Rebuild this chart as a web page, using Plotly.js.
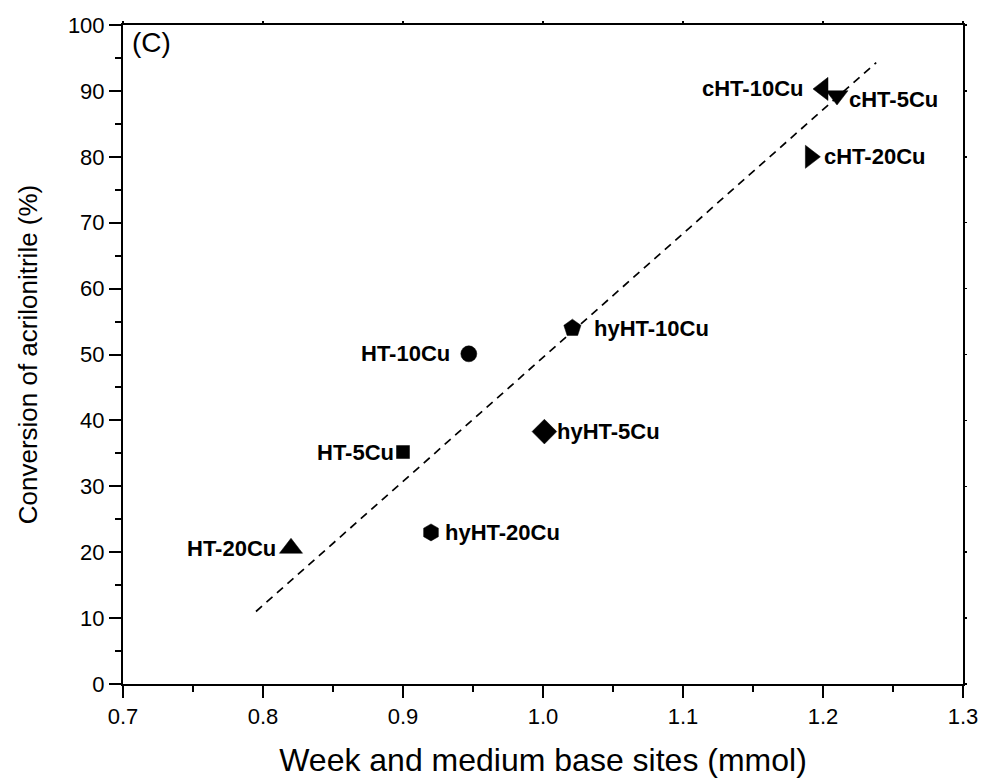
<!DOCTYPE html>
<html>
<head>
<meta charset="utf-8">
<script src="https://cdn.plot.ly/plotly-3.0.1.min.js"></script>
<style>html,body{margin:0;padding:0;background:#fff;}#chart{width:981px;height:781px;}</style>
</head>
<body>
<div id="chart"></div>
<script>
// Data
var sampleNames = ["HT-5Cu", "HT-10Cu", "HT-20Cu", "hyHT-5Cu", "hyHT-10Cu", "hyHT-20Cu", "cHT-5Cu", "cHT-10Cu", "cHT-20Cu"];
var baseSites   = [0.900, 0.947, 0.820, 1.001, 1.021, 0.920, 1.210, 1.200, 1.191];
var conversion  = [35.2, 50.1, 20.6, 38.3, 54.0, 23.0, 89.3, 90.3, 80.0];
var symbols     = ["square", "circle", "triangle-up", "diamond", "pentagon", "hexagon", "triangle-down", "triangle-left", "triangle-right"];
var labelSide   = ["left", "left", "left", "right", "right", "right", "right", "left", "right"];
var fitX = [0.795, 1.238];
var fitY = [11.0, 94.3];
var xTicks = [0.7, 0.8, 0.9, 1.0, 1.1, 1.2, 1.3];
var xTickText = ["0.7", "0.8", "0.9", "1.0", "1.1", "1.2", "1.3"];
var yTicks = [0, 10, 20, 30, 40, 50, 60, 70, 80, 90, 100];

var sizes = {"square": 13, "circle": 16, "triangle-up": 20, "diamond": 19, "pentagon": 18, "hexagon": 17, "triangle-down": 19, "triangle-left": 20, "triangle-right": 20};

var FONT = "Liberation Sans, Arial, sans-serif";

var traces = [
  {
    x: fitX, y: fitY, mode: "lines", type: "scatter",
    line: {color: "#000", width: 1.7, dash: "8px,6px"},
    hoverinfo: "skip", showlegend: false
  },
  {
    x: baseSites, y: conversion, mode: "markers", type: "scatter",
    marker: {symbol: symbols, color: "#000", opacity: 1,
             size: symbols.map(function(s){return sizes[s];}), line: {width: 0.5, color: "#000"}},
    text: sampleNames, showlegend: false
  },
  // invisible trace for the mirrored top/right axes
  {x: [0.7], y: [0], xaxis: "x2", yaxis: "y2", mode: "markers", marker: {opacity: 0}, hoverinfo: "skip", showlegend: false}
];

var annotations = sampleNames.map(function(n, i) {
  var left = labelSide[i] === "left";
  var shift = left ? -13 : 12;
  if (n === "HT-5Cu") shift = -7;
  if (n === "HT-10Cu") shift = -17;
  if (n === "hyHT-10Cu") shift = 20;
  if (n === "cHT-10Cu") shift = -18;
  if (n === "cHT-5Cu") shift = 10;
  if (n === "hyHT-5Cu") shift = 11;
  return {
    x: baseSites[i], y: conversion[i], xref: "x", yref: "y",
    text: "<b>" + n + "</b>", showarrow: false,
    xanchor: left ? "right" : "left", yanchor: "middle",
    xshift: shift, yshift: (n === "cHT-5Cu") ? -4 : 0,
    font: {family: FONT, size: 22, color: "#000"}
  };
});
annotations.push({
  xref: "paper", yref: "paper", x: 0.008, y: 1.0, xanchor: "left", yanchor: "top",
  text: "(C)", showarrow: false,
  font: {family: FONT, size: 28, color: "#000"}
});

var axisFont = {family: FONT, size: 22, color: "#000"};

var layout = {
  width: 981, height: 781,
  margin: {l: 123, r: 18, t: 25, b: 97, pad: 0},
  paper_bgcolor: "#fff", plot_bgcolor: "#fff",
  showlegend: false,
  xaxis: {
    range: [0.7, 1.3], tickvals: xTicks, ticktext: xTickText,
    ticks: "outside", ticklen: 12, tickwidth: 2, tickcolor: "#000",
    minor: {dtick: 0.05, ticks: "outside", ticklen: 6, tickwidth: 2, tickcolor: "#000"},
    showline: true, linewidth: 2, linecolor: "#000", mirror: true,
    showgrid: false, zeroline: false, tickfont: axisFont,
    title: {text: "Week and medium base sites (mmol)", font: {family: FONT, size: 32, color: "#000"}, standoff: 20}
  },
  yaxis: {
    range: [0, 100], tickvals: yTicks,
    ticks: "outside", ticklen: 12, tickwidth: 2, tickcolor: "#000",
    minor: {dtick: 5, ticks: "outside", ticklen: 6, tickwidth: 2, tickcolor: "#000"},
    showline: true, linewidth: 2, linecolor: "#000", mirror: true,
    showgrid: false, zeroline: false, tickfont: axisFont,
    title: {text: "Conversion of acrilonitrile (%)", font: {family: FONT, size: 26, color: "#000"}, standoff: 23}
  },
  xaxis2: {
    overlaying: "x", side: "top", range: [0.7, 1.3], tickvals: xTicks,
    ticks: "outside", ticklen: 3, tickwidth: 1.5, tickcolor: "#000", showticklabels: false,
    showgrid: false, zeroline: false, showline: false
  },
  yaxis2: {
    overlaying: "y", side: "right", range: [0, 100], tickvals: yTicks,
    ticks: "outside", ticklen: 3, tickwidth: 1.5, tickcolor: "#000", showticklabels: false,
    showgrid: false, zeroline: false, showline: false
  },
  annotations: annotations
};

Plotly.newPlot("chart", traces, layout, {staticPlot: true, displayModeBar: false});
</script>
</body>
</html>
